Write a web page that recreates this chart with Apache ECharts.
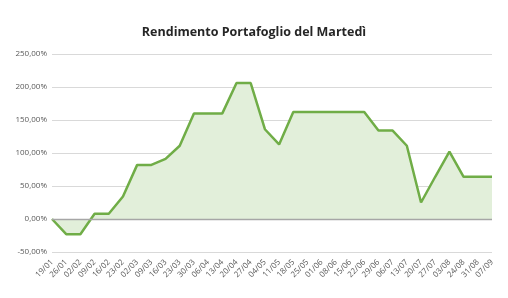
<!DOCTYPE html>
<html><head><meta charset="utf-8">
<script src="https://cdn.jsdelivr.net/npm/echarts@6/dist/echarts.min.js"></script>
<style>html,body{margin:0;padding:0;background:#fff}#c{width:508px;height:298px}</style>
</head><body><div id="c"></div>
<script>
var categories = ["19/01","26/01","02/02","09/02","16/02","23/02","02/03","09/03","16/03","23/03","30/03","06/04","13/04","20/04","27/04","04/05","11/05","18/05","25/05","01/06","08/06","15/06","22/06","29/06","06/07","13/07","20/07","27/07","03/08","24/08","31/08","07/09"];
var values = [0,-23,-23,8,8,34,82,82,91,111,160,160,160,206,206,136,113,162,162,162,162,162,162,134,134,111,25,64,102,64,64,64];
var yTicks = [-50,0,50,100,150,200,250];

var chart = echarts.init(document.getElementById('c'));
chart.setOption({
  animation:false,
  title:{text:'Rendimento Portafoglio del Martedì',left:'center',top:21,
    textStyle:{fontFamily:'Open Sans',fontSize:12.5,fontWeight:'bold',color:'#262626'}},
  grid:{left:52,right:16,top:54,bottom:46},
  xAxis:{type:'category',data:categories,boundaryGap:false,
    axisLine:{show:false,onZero:false},axisTick:{show:false},
    axisLabel:{rotate:45,fontSize:8,color:'#595959',fontFamily:'Open Sans',margin:9,interval:0}},
  yAxis:{type:'value',min:yTicks[0],max:yTicks[yTicks.length-1],interval:50,
    axisLine:{show:false},axisTick:{show:false},
    splitLine:{lineStyle:{color:'#D9D9D9',width:1}},
    axisLabel:{fontSize:8,color:'#595959',fontFamily:'Open Sans',margin:5,
      formatter:function(v){return v.toFixed(2).replace('.',',')+'%';}}},
  series:[{type:'line',data:values,symbol:'none',
    lineStyle:{color:'#70AD47',width:2.5},
    areaStyle:{color:'#E2EFDA',opacity:1,origin:0},
    markLine:{silent:true,symbol:'none',label:{show:false},
      lineStyle:{color:'#A6A6A6',width:1.3,type:'solid'},data:[{yAxis:0}]},
    z:3}]
});
</script></body></html>
